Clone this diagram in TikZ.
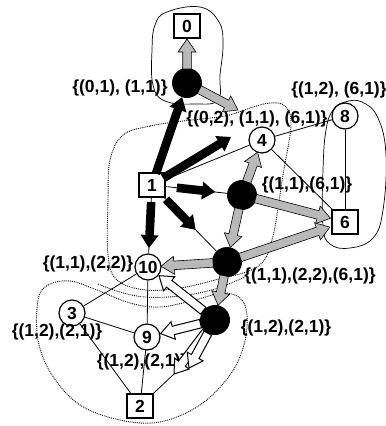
\documentclass[tikz,border=0pt]{standalone}
\usepackage{fontspec}
\setmainfont{Liberation Sans}
\usetikzlibrary{calc}

\newcommand{\fatarrow}[3][blackarrow]{
    \coordinate (fa-s) at #2;
    \coordinate (fa-e) at #3;
    \coordinate (fa-h) at ($(fa-e)!13bp!(fa-s)$);
    \path[#1] ($(fa-s)!4.3bp!90:(fa-e)$) -- ($(fa-h)!4.3bp!90:(fa-e)$)
        -- ($(fa-h)!9bp!90:(fa-e)$) -- (fa-e)
        -- ($(fa-h)!9bp!-90:(fa-e)$) -- ($(fa-h)!4.3bp!-90:(fa-e)$)
        -- ($(fa-s)!4.3bp!-90:(fa-e)$) -- cycle;
}
\tikzset{x=1bp, y=-1bp, every node/.append style={font=\fontsize{17.5bp}{20bp}\selectfont\bfseries, inner sep=0pt},
    vert/.style={circle, draw, line width=1.2bp, fill=white, minimum size=26bp},
    sink/.style={rectangle, draw, line width=1.2bp, fill=white, minimum width=26bp, minimum height=24bp},
    hub/.style={circle, fill=black, minimum size=30bp},
    edge/.style={line width=0.8bp},
    hull/.style={line width=0.7bp},
    region/.style={densely dotted, line width=0.9bp},
    blackarrow/.style={fill=black},
    grayarrow/.style={draw=black, line width=0.6bp, fill=gray!55},
    whitearrow/.style={draw=black, line width=1bp, fill=white}}

\begin{document}
\begin{tikzpicture}
    \useasboundingbox[fill=white] (0,0) rectangle (386,426);
    \draw[hull] plot[smooth cycle, tension=0.7] coordinates {(167,12) (200,7) (219,22) (223,45) (220,75) (218,100) (195,104) (165,101) (153,85) (152,50) (155,25)};
    \draw[hull] plot[smooth cycle, tension=0.7] coordinates {(345,102) (362,102) (378,118) (386,155) (383,210) (373,238) (350,248) (330,244) (323,225) (323,170) (326,130) (333,110)};
    \draw[region] plot[smooth cycle, tension=0.6] coordinates {(183,121) (150,126) (123,135) (110,160) (108,200) (108,255) (117,280) (145,290) (180,288) (215,280) (257,267) (272,240) (283,175) (291,125) (285,106) (270,103) (250,108) (225,116)};
    \draw[region] plot[smooth cycle, tension=0.6] coordinates {(38,300) (48,285) (70,281) (97,290) (130,303) (160,307) (195,300) (222,293) (240,298) (247,315) (244,345) (230,375) (200,405) (160,422) (120,420) (80,405) (52,375) (38,340)};
    \draw[region] plot[smooth, tension=0.6] coordinates {(98,284) (120,292) (145,297) (180,296) (215,289) (245,277)};

    \node[sink] (n0) at (187,26) {0};
    \node[hub] (hA) at (187,83) {};
    \node[sink] (n1) at (152,185) {1};
    \node[vert] (n4) at (262,140) {4};
    \node[vert] (n8) at (345,116) {8};
    \node[hub] (hB) at (242,195) {};
    \node[sink] (n6) at (345,222) {6};
    \node[hub] (hC) at (227,262) {};
    \node[vert] (n10) at (148,267) {10};
    \node[vert] (n3) at (72,313) {3};
    \node[vert] (n9) at (147,337) {9};
    \node[hub] (hD) at (215,320) {};
    \node[sink] (n2) at (140,406) {2};

    \node (lA) at (120,88) {\{(0,1), (1,1)\}};
    \node (l8) at (339,90) {\{(1,2), (6,1)\}};
    \node (l4) at (257,119) {\{(0,2), (1,1), (6,1)\}};
    \node (lB) at (307,185) {\{(1,1),(6,1)\}};
    \node (l10) at (88,264) {\{(1,1),(2,2)\}};
    \node (lC) at (310,276) {\{(1,1),(2,2),(6,1)\}};
    \node (l3) at (57,332) {\{(1,2),(2,1)\}};
    \node (l9) at (142,362) {\{(1,2),(2,1)\}};
    \node (lD) at (286,328) {\{(1,2),(2,1)\}};

    \coordinate (f1) at (231,137);
    \coordinate (f2) at (238,110);
    \coordinate (w1) at (174,374);
    \coordinate (w2) at (189,368);

    \draw[edge] (n1) -- (n4);
    \draw[edge] (n1) -- (hB);
    \draw[edge] (n1) -- (hC);
    \draw[edge] (n1) -- (n10);
    \draw[edge] (n4) -- (n8);
    \draw[edge] (n4) -- (n6);
    \draw[edge] (n8) -- (n6);
    \draw[edge] (n10) -- (n3);
    \draw[edge] (n10) -- (n9);
    \draw[edge] (n3) -- (n9);
    \draw[edge] (n3) -- (n2);
    \draw[edge] (n9) -- (n2);
    \draw[edge] (w1) -- (n2);

    \fatarrow{($(n1)!12bp!(hA)$)}{($(hA)!15bp!(n1)$)}
    \fatarrow{($(n1)!13bp!(f1)$)}{(f1)}
    \fatarrow{($(n1)!25bp!(hB)$)}{($(hB)!27bp!(n1)$)}
    \fatarrow{($(n1)!20bp!(hC)$)}{($(hC)!45bp!(n1)$)}
    \fatarrow{($(n1)!17bp!(n10)$)}{($(n10)!19bp!(n1)$)}

    \fatarrow[grayarrow]{($(hA)!14bp!(n0)$)}{($(n0)!13bp!(hA)$)}
    \fatarrow[grayarrow]{($(hA)!14bp!(f2)$)}{(f2)}
    \fatarrow[grayarrow]{($(hB)!14bp!(n4)$)}{($(n4)!13bp!(hB)$)}
    \fatarrow[grayarrow]{($(hB)!14bp!(n6)$)}{($(n6)!15bp!(hB)$)}
    \fatarrow[grayarrow]{($(hB)!14bp!(hC)$)}{($(hC)!15bp!(hB)$)}
    \fatarrow[grayarrow]{($(hC)!14bp!(n10)$)}{($(n10)!13bp!(hC)$)}
    \fatarrow[grayarrow]{($(hC)!14bp!(n6)$)}{($(n6)!16bp!(hC)$)}
    \fatarrow[grayarrow]{($(hC)!14bp!(hD)$)}{($(hD)!15bp!(hC)$)}

    \fatarrow[whitearrow]{($(hD)!15bp!(n10)$)}{($(n10)!14bp!(hD)$)}
    \fatarrow[whitearrow]{($(hD)!15bp!(n9)$)}{($(n9)!14bp!(hD)$)}
    \fatarrow[whitearrow]{($(hD)!15bp!(w1)$)}{(w1)}
    \fatarrow[whitearrow]{($(hD)!15bp!(w2)$)}{(w2)}
\end{tikzpicture}
\end{document}
